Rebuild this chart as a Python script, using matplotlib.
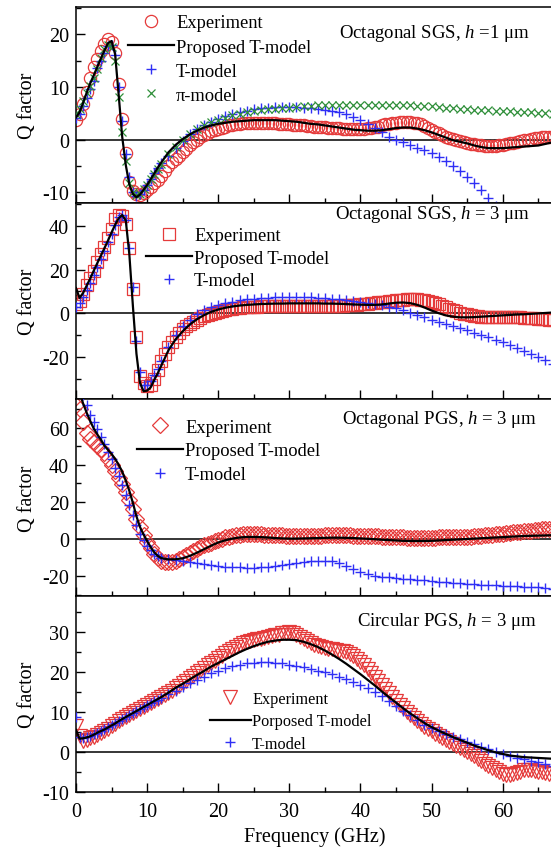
import numpy as np
import matplotlib
matplotlib.use("Agg")
import matplotlib.pyplot as plt
from matplotlib.ticker import MultipleLocator

plt.rcParams["font.family"] = ["Liberation Serif", "DejaVu Serif"]
plt.rcParams["mathtext.fontset"] = "custom"
plt.rcParams["mathtext.rm"] = "Liberation Serif"
plt.rcParams["mathtext.it"] = "Liberation Serif:italic"
plt.rcParams["axes.unicode_minus"] = False

# Measured points every 0.5 GHz
FREQ_EXP = np.arange(0, 67.01, 0.5)
# Model grid (GHz): 0.5 GHz steps below 12 GHz, 1 GHz steps above
FREQ = np.r_[np.arange(0, 12, 0.5), np.arange(12, 68, 1.0)]

# ---- Octagonal SGS, h = 1 um ----
SGS1_EXP = [3.7, 4.8, 6.7, 9.0, 11.7, 13.8, 15.2, 16.8, 18.2, 19.0, 18.5, 16.5,
            10.5, 4.0, -2.5, -8.0, -9.8, -10.3, -10.4, -10.1, -9.6, -9.0, -8.3, -7.6,
            -6.9, -5.9, -5.0, -4.3, -3.6, -3.0, -2.4, -1.7, -1.1, -0.5,
            0.0, 0.5, 0.9, 1.3, 1.6, 1.9, 2.1, 2.3, 2.5, 2.7,
            2.8, 2.9, 3.0, 3.1, 3.1, 3.2, 3.2, 3.2, 3.2, 3.1,
            3.1, 3.1, 3.1, 3.0, 3.0, 2.9, 2.9, 2.8, 2.8, 2.7,
            2.7, 2.6, 2.6, 2.5, 2.5, 2.4, 2.4, 2.3, 2.3, 2.2,
            2.2, 2.1, 2.1, 2.1, 2.1, 2.1, 2.1, 2.1, 2.2, 2.3,
            2.4, 2.5, 2.7, 2.9, 3.0, 3.1, 3.2, 3.3, 3.3, 3.3,
            3.3, 3.2, 3.1, 2.9, 2.6, 2.3, 1.9, 1.5, 1.2, 0.9,
            0.6, 0.3, 0.1, -0.1, -0.3, -0.5, -0.6, -0.8, -0.9, -1.0,
            -1.1, -1.2, -1.2, -1.2, -1.2, -1.1, -1.0, -0.9, -0.7, -0.6,
            -0.4, -0.3, -0.1, 0.0, 0.2, 0.3, 0.4, 0.5, 0.5, 0.6,
            0.6]
SGS1_PROPOSED = [4.2, 5.2, 7.0, 8.9, 10.7, 12.2, 13.8, 15.4, 16.9, 18.3, 18.7, 16.2,
                 8.5, 0.5, -4.8, -8.5, -10.3, -10.9, -10.4, -9.5, -8.6, -7.5, -6.4, -5.3,
                 -4.3, -2.4, -1.0, 0.1, 1.0, 1.7, 2.3, 2.7, 3.0, 3.2, 3.4, 3.5, 3.6, 3.7,
                 3.7, 3.7, 3.7, 3.6, 3.5, 3.4, 3.2, 3.0, 2.9, 2.7, 2.5, 2.3, 2.1, 1.9, 1.8,
                 1.7, 1.7, 1.8, 2.0, 2.2, 2.3, 2.3, 2.1, 1.8, 1.4, 0.9, 0.4, -0.1, -0.4, -0.7,
                 -1.1, -1.4, -1.6, -1.6, -1.6, -1.5, -1.4, -1.3, -1.2, -1.1, -0.8, -0.5]
SGS1_TMODEL = [4.2, 4.9, 6.3, 7.9, 9.6, 11.2, 13.5, 15.0, 16.5, 17.8, 18.0, 16.0,
               10.0, 3.5, -2.8, -7.0, -9.9, -10.6, -10.3, -9.5, -8.5, -7.4, -6.3, -5.4,
               -4.5, -3.0, -1.6, -0.2, 1.0, 2.0, 2.8, 3.4, 3.9, 4.4, 4.8, 5.2, 5.5, 5.8,
               6.0, 6.1, 6.2, 6.2, 6.2, 6.2, 6.1, 6.0, 5.9, 5.7, 5.5, 5.2, 4.8, 4.3, 3.7,
               3.0, 2.2, 1.4, 0.6, 0.0, -0.5, -1.0, -1.5, -2.0, -2.6, -3.3, -4.1, -5.0, -6.0,
               -7.1, -8.3, -9.6, -11.0, -12.5, -14.0, -15.5, -17.0, -18.6, -20.2, -22.0,
               -23.8, -25.6]
SGS1_PIMODEL = [4.8, 5.8, 7.3, 8.8, 10.2, 11.7, 13.4, 15.4, 17.2, 18.0, 17.6, 15.0,
                8.0, 1.5, -4.0, -8.2, -10.0, -10.5, -10.2, -9.4, -8.5, -7.5, -6.5, -5.5,
                -4.6, -2.8, -1.3, 0.0, 1.1, 2.0, 2.7, 3.3, 3.8, 4.2, 4.6, 4.9, 5.2, 5.4,
                5.6, 5.8, 5.9, 6.0, 6.1, 6.2, 6.3, 6.4, 6.5, 6.5, 6.6, 6.6, 6.6, 6.6, 6.6,
                6.6, 6.6, 6.6, 6.6, 6.6, 6.5, 6.5, 6.4, 6.4, 6.3, 6.2, 6.1, 6.0, 5.9, 5.8,
                5.7, 5.6, 5.6, 5.5, 5.5, 5.4, 5.3, 5.3, 5.2, 5.1, 5.0, 4.9]

# ---- Octagonal SGS, h = 3 um ----
SGS3_EXP = [4.2, 5.5, 9.0, 12.8, 16.0, 19.5, 23.5, 27.3, 30.5, 34.5, 38.8, 43.0,
            44.8, 44.5, 41.0, 30.0, 11.0, -11.0, -29.0, -32.0, -33.5, -33.0, -30.0, -26.0,
            -22.0, -18.6, -15.5, -13.0, -10.8, -8.9, -7.3, -6.0, -4.9, -3.9,
            -3.0, -2.2, -1.5, -0.9, -0.3, 0.2, 0.7, 1.1, 1.5, 1.8,
            2.1, 2.3, 2.5, 2.7, 2.8, 2.9, 3.0, 3.0, 3.1, 3.1,
            3.2, 3.2, 3.2, 3.2, 3.2, 3.2, 3.2, 3.2, 3.2, 3.2,
            3.2, 3.2, 3.2, 3.2, 3.3, 3.3, 3.3, 3.3, 3.4, 3.4,
            3.5, 3.5, 3.6, 3.7, 3.8, 3.9, 4.0, 4.1, 4.3, 4.5,
            4.7, 4.9, 5.1, 5.3, 5.5, 5.7, 5.9, 6.1, 6.2, 6.3,
            6.4, 6.4, 6.3, 6.1, 5.9, 5.5, 5.1, 4.6, 4.0, 3.4,
            2.7, 2.0, 1.4, 0.8, 0.3, -0.2, -0.6, -0.9, -1.2, -1.4,
            -1.6, -1.7, -1.8, -1.9, -1.9, -1.9, -1.9, -1.9, -1.9, -1.9,
            -1.9, -1.9, -2.0, -2.1, -2.2, -2.3, -2.5, -2.6, -2.8, -2.9,
            -3.0]
SGS3_PROPOSED = [11.5, 7.0, 9.3, 12.6, 15.9, 19.5, 23.0, 26.4, 29.8, 33.3, 37.0, 40.5,
                 43.5, 45.0, 42.5, 27.0, 3.3, -18.6, -32.0, -35.8, -35.5, -34.0, -30.6, -27.5,
                 -24.0, -17.0, -12.0, -8.3, -5.2, -2.8, -0.9, 0.6, 1.7, 2.5, 3.1, 3.5, 3.8,
                 4.0, 4.2, 4.3, 4.4, 4.4, 4.5, 4.5, 4.5, 4.5, 4.5, 4.4, 4.4, 4.3, 4.2, 4.0,
                 3.9, 3.8, 3.8, 4.0, 4.4, 4.8, 4.9, 4.6, 3.8, 2.6, 1.2, 0.0, -1.0, -1.6, -1.9,
                 -1.9, -1.8, -1.6, -1.4, -1.2, -1.0, -0.8, -0.6, -0.5, -0.3, -0.1, 0.1, 0.3]
SGS3_TMODEL = [3.0, 4.5, 7.5, 10.8, 14.0, 17.5, 21.0, 24.8, 28.5, 32.5, 36.5, 40.5,
               44.0, 45.0, 42.5, 30.0, 12.0, -12.8, -27.0, -32.8, -33.0, -31.0, -28.5, -25.5,
               -22.0, -15.5, -10.0, -6.0, -3.0, -0.5, 1.5, 2.8, 3.8, 4.6, 5.3, 5.9, 6.3,
               6.6, 6.9, 7.1, 7.2, 7.3, 7.3, 7.3, 7.3, 7.2, 7.1, 6.9, 6.6, 6.3, 6.0, 5.7,
               5.3, 4.8, 4.3, 3.7, 3.0, 2.2, 1.3, 0.3, -0.7, -1.8, -2.9, -4.0, -5.0, -6.0,
               -7.0, -7.9, -8.9, -9.9, -11.0, -12.2, -13.4, -14.7, -16.0, -17.3, -18.7,
               -20.1, -21.6, -23.2]

# ---- Octagonal PGS, h = 3 um ----
PGS3_EXP = [72.0, 70.0, 63.0, 57.0, 54.0, 52.0, 50.0, 48.5, 46.5, 43.0, 40.0, 36.5,
            33.0, 29.5, 25.5, 21.0, 16.0, 11.0, 6.5, 2.5, -1.5, -5.0, -8.0, -10.2,
            -11.6, -12.1, -12.3, -12.2, -11.8, -10.8, -9.5, -8.4, -7.3, -6.3,
            -5.3, -4.3, -3.4, -2.6, -1.8, -1.0, -0.3, 0.3, 0.9, 1.4,
            1.8, 2.1, 2.4, 2.6, 2.7, 2.7, 2.7, 2.7, 2.6, 2.5,
            2.4, 2.3, 2.2, 2.1, 2.0, 1.9, 1.9, 1.8, 1.8, 1.8,
            1.8, 1.8, 1.8, 1.8, 1.9, 1.9, 2.0, 2.0, 2.0, 2.0,
            2.0, 2.0, 2.0, 2.0, 1.9, 1.9, 1.8, 1.8, 1.7, 1.6,
            1.6, 1.5, 1.4, 1.3, 1.2, 1.1, 1.0, 0.9, 0.9, 0.8,
            0.8, 0.8, 0.8, 0.8, 0.8, 0.8, 0.8, 0.8, 0.9, 0.9,
            1.0, 1.0, 1.1, 1.1, 1.2, 1.2, 1.3, 1.4, 1.5, 1.6,
            1.8, 2.0, 2.2, 2.4, 2.6, 2.8, 3.0, 3.2, 3.4, 3.6,
            3.8, 4.0, 4.2, 4.4, 4.6, 4.8, 5.0, 5.2, 5.3, 5.5,
            5.6]
PGS3_PROPOSED = [85.0, 79.0, 73.0, 68.0, 63.5, 59.5, 56.3, 53.5, 50.3, 48.0, 45.8, 43.2,
                 40.0, 36.3, 31.5, 26.0, 19.5, 12.3, 6.5, 2.5, -1.0, -4.3, -7.1, -9.0,
                 -10.2, -10.9, -10.8, -10.3, -9.0, -7.3, -5.4, -3.5, -1.8, -0.6, 0.3, 0.9,
                 1.2, 1.2, 1.1, 0.9, 0.6, 0.4, 0.3, 0.3, 0.4, 0.5, 0.6, 0.7, 0.8, 0.8, 0.7,
                 0.6, 0.4, 0.2, 0.0, -0.3, -0.5, -0.7, -0.9, -1.0, -1.0, -1.0, -0.9, -0.7,
                 -0.5, -0.3, -0.1, 0.1, 0.3, 0.5, 0.7, 0.9, 1.1, 1.3, 1.5, 1.7, 1.8, 1.9,
                 2.0, 2.1]
PGS3_TMODEL = [88.0, 83.0, 77.5, 72.0, 67.0, 63.0, 59.0, 55.0, 51.0, 47.0, 43.0, 38.5,
               34.0, 29.0, 24.0, 18.5, 13.0, 7.5, 3.0, -0.5, -3.5, -6.0, -8.0, -9.3,
               -10.0, -10.6, -11.2, -11.8, -12.4, -13.0, -13.6, -14.1, -14.5, -14.8, -15.0,
               -15.2, -15.3, -15.3, -15.2, -15.0, -14.6, -14.1, -13.5, -12.9, -12.4, -12.0,
               -11.7, -11.6, -11.9, -12.8, -14.3, -16.0, -17.5, -18.7, -19.6, -20.2, -20.6,
               -21.0, -21.3, -21.6, -21.9, -22.2, -22.5, -22.8, -23.1, -23.4, -23.7, -24.0,
               -24.2, -24.4, -24.6, -24.8, -25.0, -25.2, -25.4, -25.6, -25.8, -26.0, -26.3,
               -26.6]

# ---- Circular PGS, h = 3 um ----
CPGS_EXP = [6.5, 4.0, 2.8, 3.0, 3.4, 3.8, 4.3, 4.8, 5.3, 5.8, 6.4, 7.0,
            7.6, 8.1, 8.6, 9.1, 9.6, 10.1, 10.6, 11.1, 11.6, 12.1, 12.6, 13.1,
            13.6, 14.1, 14.7, 15.3, 15.9, 16.5, 17.1, 17.7, 18.4, 19.0,
            19.7, 20.3, 21.0, 21.6, 22.2, 22.8, 23.4, 24.0, 24.6, 25.2,
            25.7, 26.2, 26.7, 27.1, 27.4, 27.7, 27.9, 28.1, 28.3, 28.5,
            28.7, 28.9, 29.1, 29.3, 29.6, 29.8, 30.0, 29.7, 29.3, 28.8,
            28.2, 27.7, 27.2, 26.8, 26.5, 26.2, 26.0, 25.8, 25.6, 25.4,
            25.3, 25.1, 24.9, 24.5, 24.0, 23.3, 22.5, 21.6, 20.6, 19.6,
            18.6, 17.6, 16.6, 15.6, 14.6, 13.6, 12.7, 11.8, 10.9, 10.0,
            9.2, 8.4, 7.7, 7.0, 6.3, 5.7, 5.1, 4.6, 4.1, 3.6,
            3.1, 2.6, 2.1, 1.6, 1.1, 0.6, 0.0, -0.5, -1.1, -1.7,
            -2.3, -2.9, -3.5, -4.1, -4.6, -5.1, -5.5, -5.7, -5.7, -5.5,
            -5.2, -4.9, -4.6, -4.5, -4.5, -4.7, -4.9, -5.1, -5.3, -5.5,
            -5.6]
CPGS_PROPOSED = [5.5, 3.3, 3.4, 3.6, 3.9, 4.3, 4.8, 5.2, 5.6, 6.1, 6.6, 7.1,
                 7.7, 8.2, 8.7, 9.2, 9.7, 10.2, 10.7, 11.2, 11.7, 12.2, 12.7, 13.2,
                 13.7, 14.8, 16.0, 17.0, 18.1, 19.2, 20.2, 21.3, 22.2, 23.1, 24.0, 24.9,
                 25.7, 26.4, 27.0, 27.5, 27.8, 28.0, 28.0, 27.9, 27.5, 26.9, 26.2, 25.3,
                 24.3, 23.2, 22.0, 20.7, 19.4, 18.0, 16.6, 15.1, 13.7, 12.3, 10.9, 9.6, 8.4,
                 7.2, 6.2, 5.3, 4.5, 3.7, 3.0, 2.3, 1.6, 1.0, 0.4, -0.1, -0.5, -0.9, -1.1,
                 -1.3, -1.4, -1.5, -1.6, -1.7]
CPGS_TMODEL = [8.6, 3.8, 3.5, 3.7, 4.0, 4.4, 4.8, 5.3, 5.8, 6.3, 6.8, 7.3,
               7.8, 8.3, 8.8, 9.3, 9.8, 10.2, 10.7, 11.2, 11.6, 12.1, 12.6, 13.0,
               13.5, 14.4, 15.3, 16.2, 17.1, 18.0, 18.8, 19.6, 20.3, 20.9, 21.4, 21.8, 22.1,
               22.3, 22.4, 22.4, 22.3, 22.1, 21.8, 21.5, 21.1, 20.7, 20.3, 19.9, 19.4, 18.8,
               18.1, 17.5, 16.8, 16.0, 15.0, 13.9, 12.7, 11.5, 10.3, 9.1, 7.9, 6.8, 5.9, 5.1,
               4.4, 3.8, 3.2, 2.6, 2.0, 1.3, 0.7, 0.1, -0.4, -1.0, -1.4, -1.8, -2.2, -2.6,
               -3.0, -3.4]

RED = "#e53a3a"
BLUE = "#2f2ff5"
GREEN = "#2f8f3a"

W, H = 551, 854
fig = plt.figure(figsize=(W / 100, H / 100), dpi=100)

left_px, right_px = 76.0, 552.5
top_px, bottom_px = 7.7, 793.0
panel_h = (bottom_px - top_px) / 4


def fx(px):
    return px / W


def fy(py):
    return 1 - py / H


def make_axes(i):
    t = top_px + i * panel_h
    ax = fig.add_axes([fx(left_px), fy(t + panel_h), (right_px - left_px) / W, panel_h / H])
    ax.set_xlim(0, 67)
    ax.xaxis.set_major_locator(MultipleLocator(10))
    ax.xaxis.set_minor_locator(MultipleLocator(5))
    ax.tick_params(which="both", direction="in", top=False, right=False,
                   labelsize=14.5, width=1.0, pad=5)
    ax.tick_params(which="major", length=6.3)
    ax.tick_params(which="minor", length=3.4)
    ax.tick_params(axis="x", which="both", pad=7)
    for s in ax.spines.values():
        s.set_linewidth(1.1)
    ax.axhline(0, color="black", lw=1.1, zorder=1)
    ax.set_ylabel("Q factor", fontsize=14.5)
    ax.yaxis.set_label_coords(-(left_px - 37) / (right_px - left_px), 0.5)
    if i < 3:
        ax.tick_params(axis="x", labelbottom=False)
    return ax


def add_legend(ax, handles, x_px, y_px, fs, spacing, hlen=2.5):
    ax.legend(handles=handles, loc="upper left",
              bbox_to_anchor=(fx(x_px), fy(y_px)), bbox_transform=fig.transFigure,
              frameon=False, fontsize=fs, borderpad=0, borderaxespad=0,
              handlelength=hlen, handletextpad=0.1, labelspacing=spacing)


def panel_label(text, x_px, y_px, fs=13.5):
    fig.text(fx(x_px), fy(y_px), text, ha="right", va="center", fontsize=fs)


mk = dict(linestyle="none", markerfacecolor="none")

# Panel 1
ax1 = make_axes(0)
ax1.set_ylim(-12, 25.2)
ax1.yaxis.set_major_locator(MultipleLocator(10))
ax1.yaxis.set_minor_locator(MultipleLocator(5))
h_exp, = ax1.plot(FREQ_EXP, SGS1_EXP, marker="o", ms=8.8, mew=0.9, color=RED, label="Experiment", zorder=2, **mk)
h_t, = ax1.plot(FREQ, SGS1_TMODEL, marker="+", ms=7.5, mew=1.0, color=BLUE, label="T-model", zorder=3, linestyle="none")
h_pi, = ax1.plot(FREQ, SGS1_PIMODEL, marker="x", ms=6.2, mew=0.9, color=GREEN, label="π-model", zorder=3, linestyle="none")
h_p, = ax1.plot(FREQ, SGS1_PROPOSED, color="black", lw=1.6, label="Proposed T-model", zorder=4)
add_legend(ax1, [h_exp, h_p, h_t, h_pi], 128, 15.5, 13.3, 0.38)
panel_label(r"Octagonal SGS, $h$ =1 μm", 530, 33)

# Panel 2
ax2 = make_axes(1)
ax2.set_ylim(-39.5, 50.5)
ax2.yaxis.set_major_locator(MultipleLocator(20))
ax2.yaxis.set_minor_locator(MultipleLocator(10))
h_exp, = ax2.plot(FREQ_EXP, SGS3_EXP, marker="s", ms=8.2, mew=0.9, color=RED, label="Experiment", zorder=2, **mk)
h_t, = ax2.plot(FREQ, SGS3_TMODEL, marker="+", ms=7.5, mew=1.0, color=BLUE, label="T-model", zorder=3, linestyle="none")
h_p, = ax2.plot(FREQ, SGS3_PROPOSED, color="black", lw=1.6, label="Proposed T-model", zorder=4)
add_legend(ax2, [h_exp, h_p, h_t], 146, 228, 13.3, 0.31)
panel_label(r"Octagonal SGS, $h$ = 3 μm", 530, 215)

# Panel 3
ax3 = make_axes(2)
ax3.set_ylim(-30.4, 75.2)
ax3.yaxis.set_major_locator(MultipleLocator(20))
ax3.yaxis.set_minor_locator(MultipleLocator(10))
h_exp, = ax3.plot(FREQ_EXP, PGS3_EXP, marker="D", ms=7.8, mew=0.9, color=RED, label="Experiment", zorder=2, **mk)
h_t, = ax3.plot(FREQ, PGS3_TMODEL, marker="+", ms=7.5, mew=1.0, color=BLUE, label="T-model", zorder=3, linestyle="none")
h_p, = ax3.plot(FREQ, PGS3_PROPOSED, color="black", lw=1.6, label="Proposed T-model", zorder=4)
add_legend(ax3, [h_exp, h_p, h_t], 137, 419.7, 13.3, 0.36)
panel_label(r"Octagonal PGS, $h$ = 3 μm", 537, 420)

# Panel 4
ax4 = make_axes(3)
ax4.set_ylim(-10, 39)
ax4.yaxis.set_major_locator(MultipleLocator(10))
ax4.yaxis.set_minor_locator(MultipleLocator(5))
h_exp, = ax4.plot(FREQ_EXP, CPGS_EXP, marker="v", ms=10.5, mew=0.9, color=RED, label="Experiment", zorder=2, **mk)
h_t, = ax4.plot(FREQ, CPGS_TMODEL, marker="+", ms=7.0, mew=1.0, color=BLUE, label="T-model", zorder=3, linestyle="none")
h_p, = ax4.plot(FREQ, CPGS_PROPOSED, color="black", lw=1.6, label="Porposed T-model", zorder=4)
add_legend(ax4, [h_exp, h_p, h_t], 210, 692, 11.7, 0.39, hlen=2.5)
panel_label(r"Circular PGS, $h$ = 3 μm", 537, 622)
ax4.set_xlabel("Frequency (GHz)", fontsize=14.5, labelpad=4)

fig.savefig("out.png", dpi=100)
